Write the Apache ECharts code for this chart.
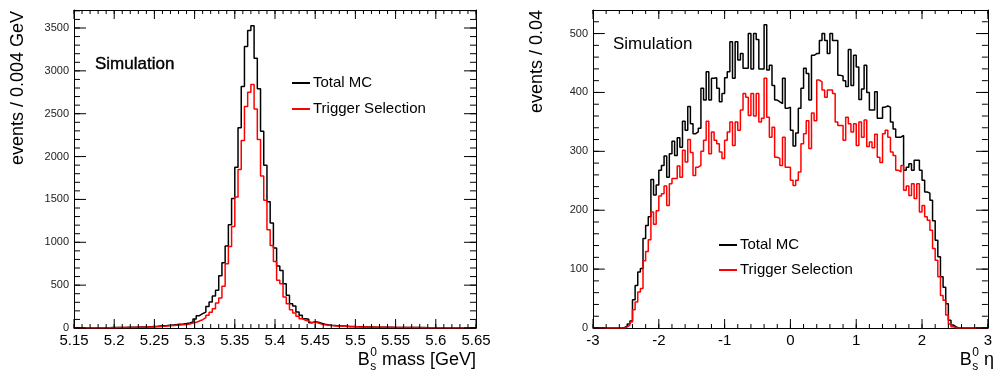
<!DOCTYPE html>
<html><head><meta charset="utf-8">
<script src="https://cdn.jsdelivr.net/npm/echarts@6/dist/echarts.min.js"></script>
<style>html,body{margin:0;padding:0;background:#fff}#c{width:995px;height:371px}</style>
</head><body><div id="c"></div>
<script>
// ---------------- data ----------------
const massBinStart = 5.15, massBinWidth = 0.004;
const massTotalMC = [2,2,2,3,3,3,3,3,4,4, 4,5,5,6,6, 7,8,9,9,10, 11,12,13,15,17, 19,22,25,28,32,
  36,40,45,48,52, 58,70,105,144,167, 186,252,303,373,439, 610,761,956,1204,1511,
  1876,2335,2817,3283,3470, 3527,3147,2790,2296,1900, 1472,1224,932,723,672, 517,381,284,256,186,
  148,109,101,62,74, 66,55,45,38,33, 30,27,24,22,20, 18,17,16,15,14, 13,12,11,10,10, 9,
  9,8,8,7,7,7,6,6,6,5, 5,5,5,4,4,4,4,3,3,3, 3,3,2,2,2,2,2,2,2];
const massTrigger = [1,1,2,2,2,2,3,3,3,3, 4,4,4,5,5, 6,6,7,7,8, 9,10,11,12,13, 15,17,19,22,25,
  28,31,34,38,42, 47,58,66,82,97, 120,150,185,225,291, 350,486,750,952,1185,
  1527,1849,2187,2584,2750, 2840,2556,2200,1773,1490, 1146,963,777,556,517, 361,284,214,175,136,
  109,89,78,62,70, 58,45,38,32,28, 25,23,21,19,18, 16,15,14,13,12, 11,10,10,9,9, 8,
  8,7,7,7,6,6,6,5,5,5, 5,4,4,4,4,3,3,3,3,3, 2,2,2,2,2,2,2,1,1];

const etaBinStart = -3, etaBinWidth = 0.04;
const etaTotalMC = [0,0,0,0,0,0,0,0,0,0, 0,1,3,7,12, 48,72,95,101,152, 174,189,252,226,243,
  268,276,292,256,296, 317,293,323,307,351, 336,376,347,330,333, 339,407,387,435,387,
  424,425,407,384,398, 425,435,486,424,486, 455,466,441,441,500, 440,500,490,440,440,
  515,438,446,412,387, 384,381,424,373,375, 336,309,331,373,407, 441,432,387,463,466,
  466,488,500,488,466, 500,488,488,429,428, 420,410,473,412,463, 443,388,406,446,400,
  370,370,401,356,356, 375,377,375,350,338, 324,324,327,268,273, 279,268,285,285,268,
  251,231,229,217,182, 149,121,87,69,41, 13,5,2,0,0, 0,0,0,0,0,0,0,0,0,0];
const etaTrigger = [0,0,0,0,0,0,0,0,0,0, 0,0,2,5,10, 31,44,61,67,114, 130,150,197,176,199,
  224,228,241,208,245, 254,254,275,256,302, 282,320,298,259,273, 276,300,319,351,296,
  333,319,313,299,288, 319,333,350,310,350, 336,370,398,392,361, 398,360,398,350,356,
  424,358,324,341,290, 288,276,324,273,273, 251,242,251,265,313, 330,352,305,365,352,
  421,418,404,392,404, 404,398,350,344,344, 319,358,347,333,347, 310,350,324,353,308,
  316,306,329,290,281, 330,336,324,299,293, 268,265,276,234,241, 225,245,220,245,197,
  208,189,183,166,135, 115,87,55,47,22, 7,2,0,0,0, 0,0,0,0,0,0,0,0,0,0];

const seriesNames = ['Total MC', 'Trigger Selection'];
const seriesColors = ['#000000', '#ff0000'];

// axis ranges and tick steps
const massRange = [5.15, 5.65], massMajorStep = 0.05, massMinorStep = 0.01;
const massCountRange = [0, 3710], massCountMajorStep = 500, massCountMinorStep = 100;
const etaRange = [-3, 3], etaMajorStep = 1, etaMinorStep = 0.2;
const etaCountRange = [0, 540], etaCountMajorStep = 100, etaCountMinorStep = 20;

// ---------------- layout ----------------
const GRIDS = [
  {left: 74, top: 10, width: 402, height: 318},
  {left: 593, top: 10, width: 401, height: 318}
];
const FONT = '"Liberation Sans", Arial, Helvetica, sans-serif';

// ---------------- helpers ----------------
function histPoints(start, width, vals) {
  const pts = vals.map((v, i) => [+(start + i * width).toFixed(6), v]);
  pts.push([+(start + vals.length * width).toFixed(6), vals[vals.length - 1]]);
  return pts;
}
function tickValues(min, max, step) {
  const out = [];
  const n = Math.floor((max - min) / step + 1e-6);
  for (let k = 0; k <= n; k++) out.push(+(min + k * step).toFixed(6));
  return out;
}
function mainAxis(grid, pos, range, interval, label) {
  return {type: 'value', gridIndex: grid, min: range[0], max: range[1], interval: interval, position: pos,
    axisLine: {show: true, onZero: false, lineStyle: {color: '#000', width: 1}},
    axisTick: {show: false}, minorTick: {show: false},
    axisLabel: label || {show: false}, splitLine: {show: false}};
}
const xLabel = {show: true, margin: 5, fontSize: 15, color: '#000', fontFamily: FONT};
const yLabel = {show: true, margin: 5, fontSize: 11, color: '#222', fontFamily: FONT, showMaxLabel: false,
  formatter: v => String(v)};

const xAxes = [
  mainAxis(0, 'bottom', massRange, massMajorStep, xLabel),
  mainAxis(0, 'top', massRange, massMajorStep, null),
  mainAxis(1, 'bottom', etaRange, etaMajorStep, xLabel),
  mainAxis(1, 'top', etaRange, etaMajorStep, null)
];
const yAxes = [
  mainAxis(0, 'left', massCountRange, massCountMajorStep, yLabel),
  mainAxis(0, 'right', massCountRange, massCountMajorStep, null),
  mainAxis(1, 'left', etaCountRange, etaCountMajorStep, yLabel),
  mainAxis(1, 'right', etaCountRange, etaCountMajorStep, null)
];

function mkSeries(name, color, xi, yi, pts, z) {
  return {type: 'line', name: name, xAxisIndex: xi, yAxisIndex: yi, data: pts, step: 'end',
    symbol: 'none', showSymbol: false, z: z, clip: true,
    lineStyle: {color: color, width: 1.5}, itemStyle: {color: color}, emphasis: {disabled: true}};
}
// inward tick marks on both opposite frame sides, drawn as broken line segments in axis units
let tickId = 0;
function tickSeries(xi, yi, grid, dim, values, xr, yr, lenPx) {
  tickId++;
  const g = GRIDS[grid];
  const pts = [];
  const gap = [NaN, NaN];
  if (dim === 'x') {
    const d = lenPx * (yr[1] - yr[0]) / g.height;
    values.forEach(v => {
      pts.push([v, yr[0]], [v, yr[0] + d], gap, [v, yr[1]], [v, yr[1] - d], gap);
    });
  } else {
    const d = lenPx * (xr[1] - xr[0]) / g.width;
    values.forEach(v => {
      pts.push([xr[0], v], [xr[0] + d, v], gap, [xr[1], v], [xr[1] - d, v], gap);
    });
  }
  return {type: 'line', name: 'ticks' + tickId, xAxisIndex: xi, yAxisIndex: yi, data: pts,
    symbol: 'none', showSymbol: false, connectNulls: false, clip: false, silent: true, z: 10,
    lineStyle: {color: '#000', width: 1}, emphasis: {disabled: true}, tooltip: {show: false}};
}
const series = [
  mkSeries(seriesNames[0], seriesColors[0], 0, 0, histPoints(massBinStart, massBinWidth, massTotalMC), 2),
  mkSeries(seriesNames[1], seriesColors[1], 0, 0, histPoints(massBinStart, massBinWidth, massTrigger), 3),
  mkSeries(seriesNames[0], seriesColors[0], 2, 2, histPoints(etaBinStart, etaBinWidth, etaTotalMC), 2),
  mkSeries(seriesNames[1], seriesColors[1], 2, 2, histPoints(etaBinStart, etaBinWidth, etaTrigger), 3),
  tickSeries(0, 0, 0, 'x', tickValues(massRange[0], massRange[1], massMajorStep), massRange, massCountRange, 9),
  tickSeries(0, 0, 0, 'x', tickValues(massRange[0], massRange[1], massMinorStep), massRange, massCountRange, 4),
  tickSeries(0, 0, 0, 'y', tickValues(0, 3500, massCountMajorStep), massRange, massCountRange, 12),
  tickSeries(0, 0, 0, 'y', tickValues(0, 3700, massCountMinorStep), massRange, massCountRange, 6),
  tickSeries(2, 2, 1, 'x', tickValues(etaRange[0], etaRange[1], etaMajorStep), etaRange, etaCountRange, 9),
  tickSeries(2, 2, 1, 'x', tickValues(etaRange[0], etaRange[1], etaMinorStep), etaRange, etaCountRange, 4),
  tickSeries(2, 2, 1, 'y', tickValues(0, 500, etaCountMajorStep), etaRange, etaCountRange, 12),
  tickSeries(2, 2, 1, 'y', tickValues(0, 520, etaCountMinorStep), etaRange, etaCountRange, 6)
];

// text measurement for axis titles with sub/superscripts
const mctx = document.createElement('canvas').getContext('2d');
function tw(t, size) { mctx.font = size + 'px "Liberation Sans"'; return mctx.measureText(t).width; }
function bsTitle(rightX, cy, tail) {
  const big = 18, small = 12;
  const wTail = tw(tail, big);
  const col = Math.max(tw('s', small), tw('0', small));
  const colX = rightX - wTail - col;
  const mk = (x, y, t, size, align) => ({type: 'text', x: x, y: y, silent: true,
    style: {text: t, font: size + 'px ' + FONT, fill: '#000', align: align, verticalAlign: 'middle'}});
  return [
    mk(rightX, cy, tail, big, 'right'),
    mk(colX, cy - 7, '0', small, 'left'),
    mk(colX, cy + 7, 's', small, 'left'),
    mk(colX - 0.5, cy, 'B', big, 'right')
  ];
}
function legendEntry(name, color, x, y) {
  return [
    {type: 'line', silent: true, shape: {x1: x, y1: y, x2: x + 18, y2: y}, style: {stroke: color, lineWidth: 2}},
    {type: 'text', x: x + 21, y: y, silent: true,
     style: {text: name, font: '15px ' + FONT, fill: '#000', align: 'left', verticalAlign: 'middle'}}
  ];
}
const graphics = [].concat(
  [{type: 'text', x: 18, y: 11, rotation: Math.PI / 2, silent: true,
    style: {text: 'events / 0.004 GeV', font: '18px ' + FONT, fill: '#000', align: 'right', verticalAlign: 'middle'}},
   {type: 'text', x: 537, y: 10, rotation: Math.PI / 2, silent: true,
    style: {text: 'events / 0.04', font: '18px ' + FONT, fill: '#000', align: 'right', verticalAlign: 'middle'}},
   {type: 'text', x: 95, y: 64, silent: true,
    style: {text: 'Simulation', font: '17px ' + FONT, fill: '#000', align: 'left', verticalAlign: 'middle', stroke: '#000', lineWidth: 0.4}},
   {type: 'text', x: 613, y: 44, silent: true,
    style: {text: 'Simulation', font: '17px ' + FONT, fill: '#000', align: 'left', verticalAlign: 'middle'}}],
  bsTitle(476, 360, ' mass [GeV]'),
  bsTitle(994, 360, ' \u03b7'),
  legendEntry(seriesNames[0], seriesColors[0], 292, 83),
  legendEntry(seriesNames[1], seriesColors[1], 292, 109),
  legendEntry(seriesNames[0], seriesColors[0], 719, 245),
  legendEntry(seriesNames[1], seriesColors[1], 719, 270)
);

const chart = echarts.init(document.getElementById('c'), null, {renderer: 'canvas'});
chart.setOption({
  animation: false,
  grid: GRIDS,
  xAxis: xAxes,
  yAxis: yAxes,
  graphic: graphics,
  series: series
});
</script></body></html>
